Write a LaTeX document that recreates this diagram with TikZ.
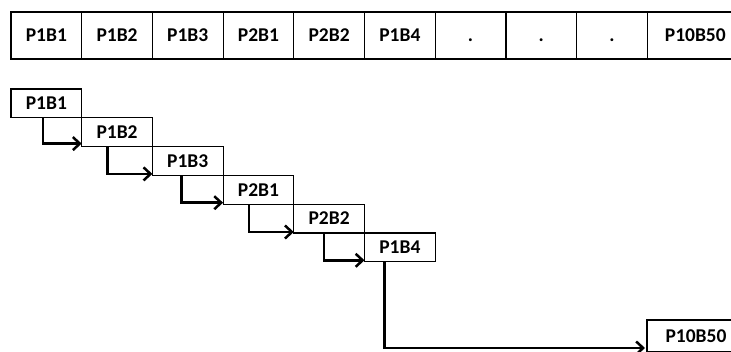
\documentclass[tikz,border=0pt]{standalone}
\usepackage{fontspec}
\setmainfont{Carlito}
\usetikzlibrary{arrows.meta,positioning}

\begin{document}
\begin{tikzpicture}[x=1pt, y=-1pt, font=\bfseries\fontsize{19.5}{21}\selectfont,
  cell/.style={draw=black, line width=1.2pt, minimum width=70.7pt, minimum height=47pt, inner sep=0pt, outer sep=0pt, text height=12.5pt, text depth=0pt},
  blk/.style={draw=black, line width=1.2pt, minimum width=70.7pt, minimum height=28.8pt, inner sep=0pt, outer sep=0pt, text height=12.5pt, text depth=0pt},
  arrow/.style={-{Straight Barb[length=7pt,width=13pt]}, line width=2.5pt, draw=black}]
  \clip (0,0) rectangle (731,351);
  % sequence of slots
  \node[cell, anchor=north west] (slot1) at (11,12) {P1B1};
  \node[cell, right=0pt of slot1] (slot2) {P1B2};
  \node[cell, right=0pt of slot2] (slot3) {P1B3};
  \node[cell, right=0pt of slot3] (slot4) {P2B1};
  \node[cell, right=0pt of slot4] (slot5) {P2B2};
  \node[cell, right=0pt of slot5] (slot6) {P1B4};
  \node[cell, right=0pt of slot6] (slot7) {.};
  \node[cell, right=0pt of slot7] (slot8) {.};
  \node[cell, right=0pt of slot8] (slot9) {.};
  \node[cell, minimum width=96pt, right=0pt of slot9] (slot10) {P10B50};
  % staircase
  \node[blk, anchor=north west] (p1b1) at (11,89) {P1B1};
  \node[blk, below right=0pt of p1b1] (p1b2) {P1B2};
  \node[blk, below right=0pt of p1b2] (p1b3) {P1B3};
  \node[blk, below right=0pt of p1b3] (p2b1) {P2B1};
  \node[blk, below right=0pt of p2b1] (p2b2) {P2B2};
  \node[blk, below right=0pt of p2b2] (p1b4) {P1B4};
  \node[blk, minimum width=98pt, minimum height=32pt, anchor=north west] (p10b50) at (647,320) {P10B50};
  \draw[arrow] ([xshift=32pt]p1b1.south west) |- ([yshift=3pt]p1b2.south west);
  \draw[arrow] ([xshift=26pt]p1b2.south west) |- ([yshift=1.5pt]p1b3.south west);
  \draw[arrow] ([xshift=29pt]p1b3.south west) |- ([yshift=1.5pt]p2b1.south west);
  \draw[arrow] ([xshift=26pt]p2b1.south west) |- ([yshift=1pt]p2b2.south west);
  \draw[arrow] ([xshift=30pt]p2b2.south west) |- ([yshift=1.5pt]p1b4.south west);
  \draw[arrow] ([xshift=20pt]p1b4.south west) |- ([xshift=-2pt,yshift=4pt]p10b50.south west);
\end{tikzpicture}
\end{document}
